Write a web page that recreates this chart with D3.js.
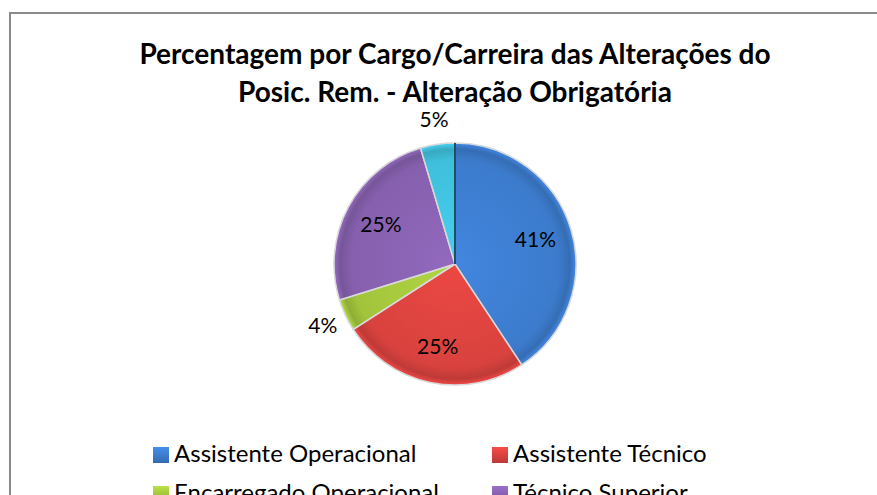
<!DOCTYPE html>
<html>
<head>
    <meta charset="utf-8">
    <title>Percentagem por Cargo/Carreira</title>
    <script src="https://d3js.org/d3.v7.min.js"></script>
    <style>
        body { margin: 0; background: #fff; }
        svg { display: block; font-family: Lato, "Open Sans", sans-serif; }
    </style>
</head>
<body>
    <svg width="877" height="495"></svg>
    <script>

        // Chart data
        const categories = ["Assistente Operacional", "Assistente Técnico", "Encarregado Operacional", "Técnico Superior", "Outro"];
        const values = [40.7, 25.2, 4.3, 25.2, 4.6];
        const colors = ["#3c7bcc", "#d8423e", "#a2c43c", "#8660ae", "#3fbfdb"];
        const titleLines = ["Percentagem por Cargo/Carreira das Alterações do", "Posic. Rem. - Alteração Obrigatória"];

        const svg = d3.select("svg");
        const defs = svg.append("defs");

        // chart frame (right and bottom edges fall outside the window)
        svg.append("rect")
            .attr("x", 10).attr("y", 13)
            .attr("width", 900).attr("height", 560)
            .attr("fill", "#fff")
            .attr("stroke", "#8a8a8a")
            .attr("stroke-width", 2);

        // title
        svg.append("text")
            .attr("x", 455)
            .attr("text-anchor", "middle")
            .style("font-weight", "bold")
            .style("font-size", "28px")
            .selectAll("tspan")
            .data(titleLines)
            .join("tspan")
            .attr("x", 455)
            .attr("y", (d, i) => 64 + i * 38)
            .text(d => d);

        const cx = 455, cy = 264, radius = 121;
        const total = d3.sum(values);
        const pct = d3.format(".0%");

        const pieData = d3.pie().sort(null)(values);
        const arc = d3.arc().innerRadius(0).outerRadius(radius);

        // soft bevel look for each colour
        colors.forEach(function(c, i) {
            const g = defs.append("radialGradient")
                .attr("id", "grad" + i)
                .attr("gradientUnits", "userSpaceOnUse")
                .attr("cx", 0).attr("cy", 0).attr("r", radius);
            g.append("stop").attr("offset", "0%").attr("stop-color", d3.color(c).brighter(0.25));
            g.append("stop").attr("offset", "86%").attr("stop-color", c);
            g.append("stop").attr("offset", "95%").attr("stop-color", d3.color(c).darker(0.35));
            g.append("stop").attr("offset", "100%").attr("stop-color", d3.color(c).brighter(0.3));

            const lg = defs.append("linearGradient")
                .attr("id", "key" + i)
                .attr("x1", 0).attr("y1", 0).attr("x2", 0).attr("y2", 1);
            lg.append("stop").attr("offset", "0%").attr("stop-color", d3.color(c).brighter(0.4));
            lg.append("stop").attr("offset", "100%").attr("stop-color", d3.color(c).darker(0.4));
        });

        const pie = svg.append("g").attr("transform", "translate(" + cx + "," + cy + ")");

        pie.selectAll("path")
            .data(pieData)
            .join("path")
            .attr("d", arc)
            .attr("fill", (d, i) => "url(#grad" + i + ")")
            .attr("stroke", "#d9d9d9")
            .attr("stroke-width", 1.5);

        // dark edge where the last slice meets the first
        const edge = d3.pointRadial(0, radius);
        pie.append("line")
            .attr("x1", 0).attr("y1", 0)
            .attr("x2", edge[0]).attr("y2", edge[1])
            .attr("stroke", "#1f4f63")
            .attr("stroke-width", 2);

        // data labels: inside for big slices, outside for small ones
        const inner = d3.arc().innerRadius(84).outerRadius(84);
        const outer = d3.arc().innerRadius(146).outerRadius(146);

        pie.selectAll("text")
            .data(pieData)
            .join("text")
            .attr("transform", d => "translate(" + ((d.data / total) < 0.1 ? outer : inner).centroid(d) + ")")
            .attr("text-anchor", "middle")
            .attr("dy", "0.36em")
            .style("font-size", "21px")
            .style("fill", "#000")
            .text(d => pct(d.data / total));

        // legend, two columns
        const colX = d3.scalePoint().domain([0, 1]).range([153, 492]);
        const rowY = d3.scaleLinear().domain([0, 1]).range([447, 486]);

        const legend = svg.append("g")
            .selectAll("g")
            .data(categories)
            .join("g")
            .attr("transform", (d, i) => "translate(" + colX(i % 2) + "," + rowY(Math.floor(i / 2)) + ")");

        legend.append("rect")
            .attr("width", 16).attr("height", 16)
            .attr("fill", (d, i) => "url(#key" + i + ")");

        legend.append("text")
            .attr("x", 21)
            .attr("y", 15)
            .style("font-size", "24px")
            .text(d => d);

    </script>
</body>
</html>
